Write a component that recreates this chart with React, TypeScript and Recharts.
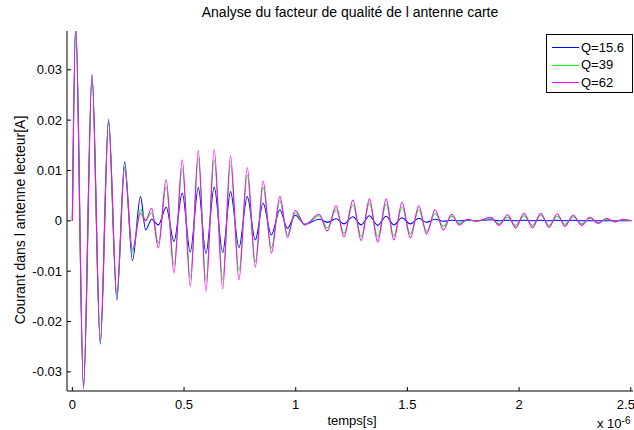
import { LineChart, Line, XAxis, YAxis } from 'recharts'

// temps en microsecondes (x 10^-6 s), un point par extremum de l'oscillation
const time = [
  0, 0.015, 0.05, 0.088, 0.125, 0.162, 0.199, 0.234, 0.269, 0.305, 0.328, 0.355, 0.385, 0.42, 0.455,
  0.492, 0.528, 0.564, 0.598, 0.635, 0.673, 0.708, 0.746, 0.783, 0.819, 0.854, 0.891, 0.929, 0.963,
  0.998, 1.04, 1.105, 1.141, 1.181, 1.216, 1.256, 1.293, 1.33, 1.367, 1.405, 1.439, 1.476, 1.513,
  1.551, 1.586, 1.624, 1.661, 1.698, 1.732, 1.769, 1.807, 1.874, 1.911, 1.948, 1.985, 2.022, 2.06,
  2.097, 2.134, 2.171, 2.205, 2.242, 2.28, 2.317, 2.354, 2.391, 2.429, 2.466, 2.503,
]

const q15 = [
  0, 0.039, -0.0328, 0.0288, -0.0245, 0.0201, -0.0157, 0.0117, -0.0079, 0.0048, -0.0018, 0.0003,
  -0.0008, 0.0027, -0.0041, 0.0055, -0.0062, 0.0066, -0.0065, 0.0067, -0.0063, 0.0058, -0.0053,
  0.0048, -0.0038, 0.0035, -0.0028, 0.0022, -0.0015, 0.0011, -0.0007, 0.0003, -0.0003, 0.0004,
  -0.0006, 0.0008, -0.0008, 0.001, -0.0009, 0.0009, -0.0008, 0.0006, -0.0006, 0.0005, -0.0003,
  0.0003, -0.0001, 0.0001, 0, 0.0001, 0, 0.0002, 0, 0.0001, 0, 0.0001, 0, 0.0001, 0, 0.0001, 0,
  0.0001, 0, 0, 0, 0, 0, 0, 0,
]

const q39 = [
  0, 0.039, -0.0332, 0.0289, -0.0243, 0.0198, -0.015, 0.0108, -0.0062, 0.0022, 0.0002, 0.0016,
  -0.0044, 0.0068, -0.0088, 0.0104, -0.0113, 0.0123, -0.012, 0.0121, -0.0117, 0.0111, -0.01, 0.0091,
  -0.0081, 0.0067, -0.0054, 0.004, -0.0028, 0.0016, -0.0008, 0.001, -0.0014, 0.0022, -0.0025,
  0.0032, -0.0031, 0.0035, -0.0032, 0.0033, -0.003, 0.0027, -0.0026, 0.0022, -0.0021, 0.0015,
  -0.0011, 0.0009, -0.0005, 0.0002, -0.0001, 0.0005, -0.0006, 0.0007, -0.0009, 0.001, -0.0009,
  0.0011, -0.0009, 0.0009, -0.0007, 0.0008, -0.0006, 0.0005, -0.0004, 0.0003, -0.0001, 0.0002, 0,
]

const q62 = [
  0, 0.039, -0.0335, 0.0291, -0.024, 0.0196, -0.0145, 0.0104, -0.0057, 0.0015, 0, 0.0025, -0.0054,
  0.0082, -0.0103, 0.0121, -0.013, 0.0139, -0.014, 0.0142, -0.0135, 0.0129, -0.0117, 0.0106,
  -0.0092, 0.0079, -0.0064, 0.0048, -0.0033, 0.0021, -0.0008, 0.0013, -0.002, 0.003, -0.0032,
  0.0041, -0.0039, 0.0043, -0.0042, 0.0043, -0.0038, 0.0037, -0.0034, 0.003, -0.0026, 0.0022,
  -0.0018, 0.0013, -0.0008, 0.0003, -0.0001, 0.0007, -0.0009, 0.0012, -0.0014, 0.0015, -0.0014,
  0.0015, -0.0013, 0.0014, -0.0011, 0.0011, -0.0009, 0.0007, -0.0005, 0.0005, -0.0002, 0.0003, 0,
]

const xTicks = [0, 0.5, 1, 1.5, 2, 2.5]
const yTicks = [-0.03, -0.02, -0.01, 0, 0.01, 0.02, 0.03]

const seriesNames = ['Q=15.6', 'Q=39', 'Q=62']
const seriesKeys = ['q15', 'q39', 'q62']
const seriesColors = ['#0000ff', '#00ff00', '#ff00ff']

const data = time.map((t, i) => ({ t, q15: q15[i], q39: q39[i], q62: q62[i] }))

const FONT = '"Liberation Sans", Arial, sans-serif'
const tickStyle = { fontSize: 13, fill: '#000', fontFamily: FONT }

function fmtY(v: number) {
  return v === 0 ? '0' : v.toFixed(2)
}

export default function App() {
  return (
    <div style={{ position: 'absolute', left: 0, top: 0, width: 634, height: 430, background: '#fff', fontFamily: FONT, color: '#000', overflow: 'hidden' }}>
      <LineChart width={634} height={430} data={data} margin={{ top: 31, right: 1, bottom: 0, left: 0 }}>
        <XAxis
          dataKey="t"
          type="number"
          domain={[-0.024, 2.51]}
          ticks={xTicks}
          tickFormatter={(v) => String(v)}
          height={39}
          tickSize={-4}
          tickMargin={13}
          tick={tickStyle}
          stroke="#000"
          allowDataOverflow
        />
        <XAxis
          xAxisId="top"
          orientation="top"
          dataKey="t"
          type="number"
          domain={[-0.024, 2.51]}
          ticks={xTicks}
          height={0}
          tickSize={-4}
          tick={false}
          stroke="#000"
          allowDataOverflow
        />
        <YAxis
          type="number"
          domain={[-0.0338, 0.0377]}
          ticks={yTicks}
          tickFormatter={fmtY}
          width={67}
          tickSize={-4}
          tickMargin={9}
          tick={tickStyle}
          stroke="#000"
          allowDataOverflow
        />
        <YAxis
          yAxisId="right"
          orientation="right"
          type="number"
          domain={[-0.0338, 0.0377]}
          ticks={yTicks}
          width={0}
          tickSize={-4}
          tick={false}
          stroke="#000"
          allowDataOverflow
        />
        {seriesKeys.map((k, i) => (
          <Line
            key={k}
            type="monotone"
            dataKey={k}
            name={seriesNames[i]}
            stroke={seriesColors[i]}
            strokeWidth={1.1}
            dot={false}
            isAnimationActive={false}
          />
        ))}
      </LineChart>

      {/* titre et libellés des axes */}
      <div style={{ position: 'absolute', left: 67, width: 566, top: 4, textAlign: 'center', fontSize: 14 }}>
        Analyse du facteur de qualité de l antenne carte
      </div>
      <div style={{ position: 'absolute', left: 67, width: 570, top: 413, textAlign: 'center', fontSize: 13 }}>
        temps[s]
      </div>
      <div style={{ position: 'absolute', left: 597, top: 416, fontSize: 13, whiteSpace: 'nowrap', lineHeight: '15px' }}>
        x 10<sup style={{ fontSize: 10, verticalAlign: 'top', position: 'relative', top: -3 }}>-6</sup>
      </div>
      <div
        style={{
          position: 'absolute',
          left: 20,
          top: 220,
          fontSize: 14,
          whiteSpace: 'nowrap',
          transform: 'translate(-50%, -50%) rotate(-90deg)',
        }}
      >
        Courant dans l antenne lecteur[A]
      </div>

      {/* légende */}
      <div style={{ position: 'absolute', left: 546, top: 34, width: 85, height: 57, border: '1px solid #000', background: '#fff' }}>
        {seriesNames.map((n, i) => (
          <div key={n} style={{ position: 'absolute', left: 5, top: 4 + i * 17.5, height: 16, display: 'flex', alignItems: 'center', fontSize: 13 }}>
            <svg width={29} height={16} style={{ display: 'block' }}>
              <line x1={0} y1={8.5} x2={27} y2={8.5} stroke={seriesColors[i]} strokeWidth={1} />
            </svg>
            {n}
          </div>
        ))}
      </div>
    </div>
  )
}
